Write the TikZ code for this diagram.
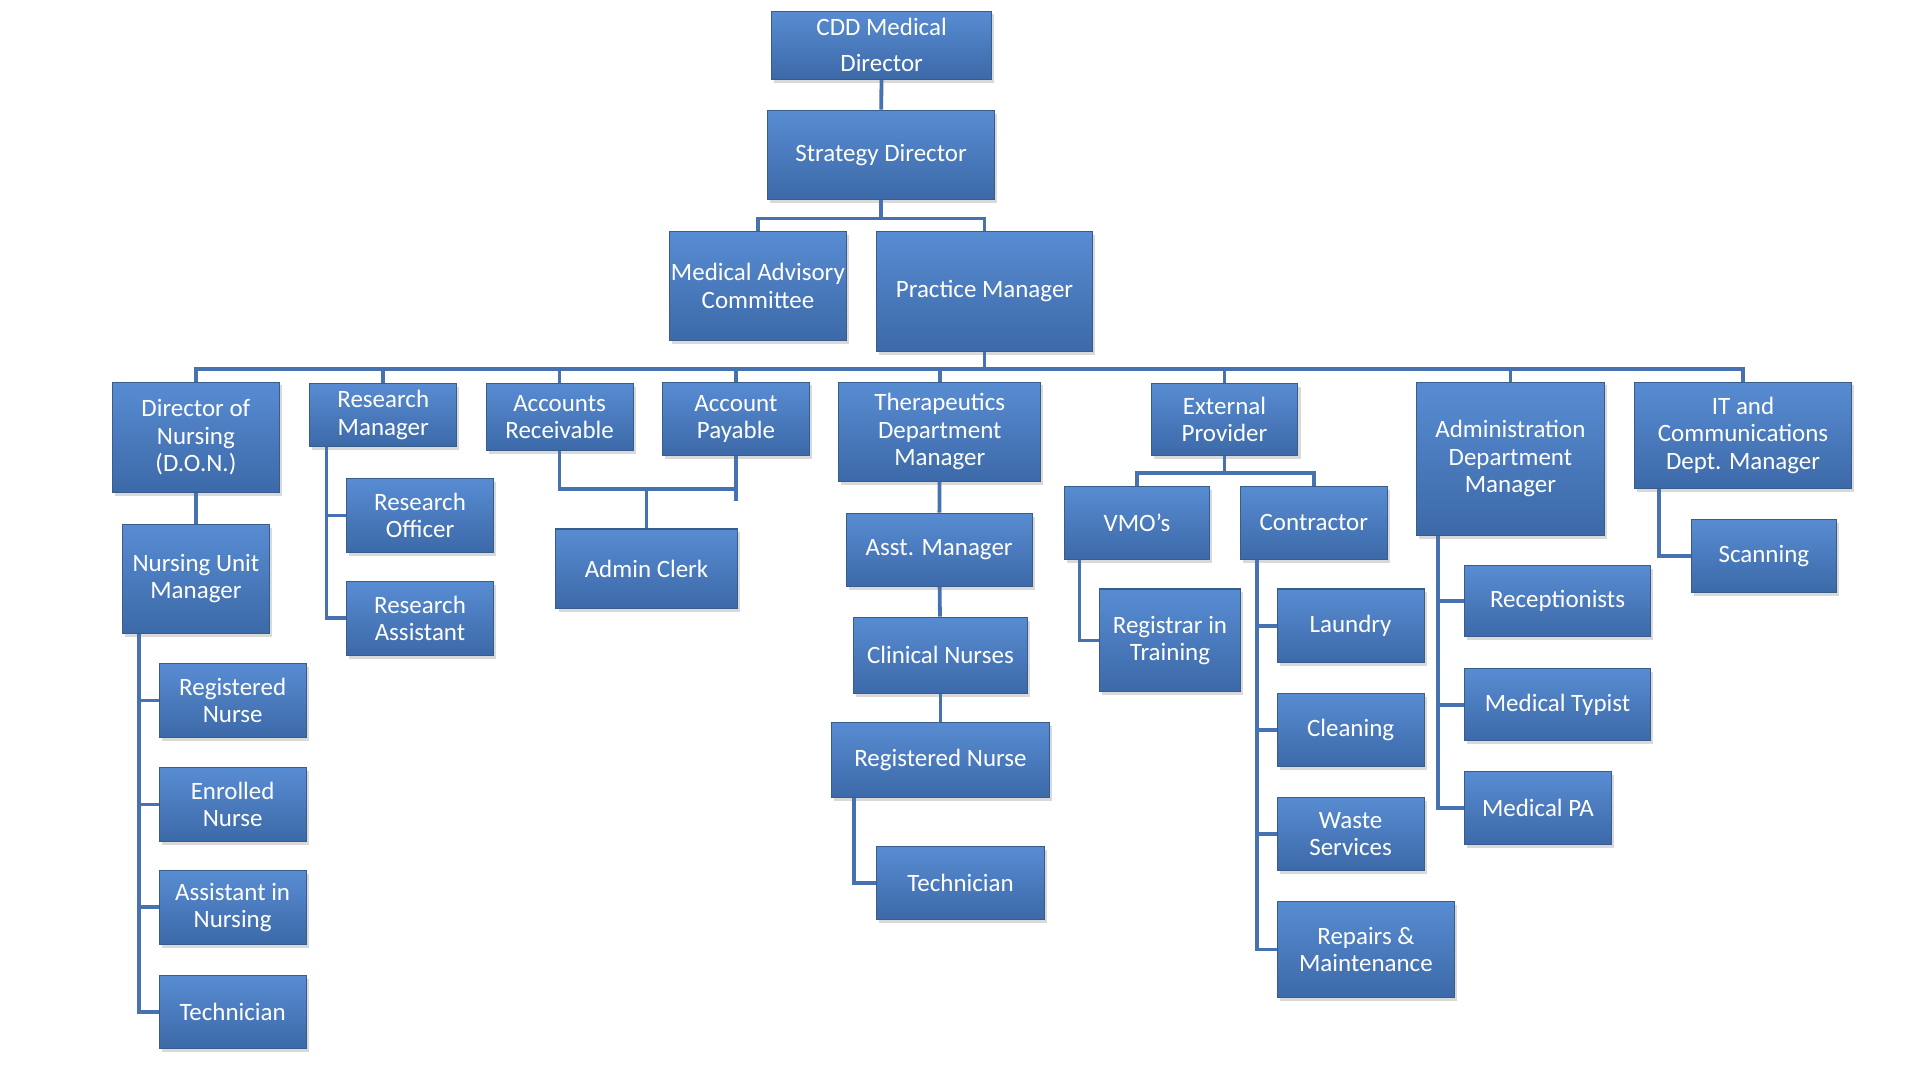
\documentclass[tikz,border=0pt]{standalone}
\usepackage{fontspec}
\setmainfont{Carlito}
\usetikzlibrary{calc,shadows}
\definecolor{boxtop}{RGB}{88,140,210}
\definecolor{boxbot}{RGB}{60,105,168}
\definecolor{boxedge}{RGB}{56,93,138}
\definecolor{linkblue}{RGB}{70,114,178}
\begin{document}
\begin{tikzpicture}[x=0.025cm,y=-0.025cm,
    unit/.style 2 args={rectangle,top color=boxtop,bottom color=boxbot,draw=boxedge,line width=0.6pt,
        minimum width=#1*0.025cm,minimum height=#2*0.025cm,inner sep=0pt,align=center,
        text=white,font=\fontsize{14.5}{16}\selectfont,
        drop shadow={shadow xshift=1.5pt,shadow yshift=-2pt,opacity=0.3}},
    link/.style={draw=linkblue,line width=2.2pt}]
    \useasboundingbox (0,0) rectangle (1568,876);
    % top of the chart
    \node[unit={180}{56}] (cdd) at (720,37) {CDD Medical\\[5pt]Director};
    \node[unit={185}{73}] (sd) at (719.5,126.5) {Strategy Director};
    \node[unit={144}{89}] (mac) at (619,233.5) {Medical Advisory\\Committee};
    \node[unit={176}{98}] (pm) at (804,238) {Practice Manager};
    % first row
    \node[unit={136}{90}] (don) at (160,357) {Director of\\Nursing\\(D.O.N.)};
    \node[unit={120}{52}] (rm) at (313,339) {Research\\Manager};
    \node[unit={120}{55}] (ar) at (457,340.5) {Accounts\\Receivable};
    \node[unit={120}{60}] (ap) at (601,342) {Account\\Payable};
    \node[unit={165}{81}] (tdm) at (767.5,352.5) {Therapeutics\\Department\\Manager};
    \node[unit={120}{59}] (ep) at (1000,342.5) {External\\Provider};
    \node[unit={153}{125}] (adm) at (1233.5,374.5) {Administration\\Department\\Manager};
    \node[unit={177}{87}] (it) at (1423.5,355.5) {IT and\\Communications\\Dept. Manager};
    % nursing
    \node[unit={120}{89}] (num) at (160,472.5) {Nursing Unit\\Manager};
    \node[unit={120}{60}] (rna) at (190,572) {Registered\\Nurse};
    \node[unit={120}{60}] (en) at (190,657) {Enrolled\\Nurse};
    \node[unit={120}{60}] (ain) at (190,741) {Assistant in\\Nursing};
    \node[unit={120}{59}] (techa) at (190,826.5) {Technician};
    % research and accounts
    \node[unit={120}{60}] (ro) at (343,421) {Research\\Officer};
    \node[unit={120}{60}] (ra) at (343,505) {Research\\Assistant};
    \node[unit={148}{65}] (ac) at (528,464.5) {Admin Clerk};
    % therapeutics
    \node[unit={152}{60}] (am) at (767,449) {Asst. Manager};
    \node[unit={142}{62}] (cn) at (768,535) {Clinical Nurses};
    \node[unit={178}{61}] (rnb) at (768,620.5) {Registered Nurse};
    \node[unit={137}{60}] (techb) at (784.5,721) {Technician};
    % external provider
    \node[unit={119}{60}] (vmo) at (928.5,427) {VMO’s};
    \node[unit={120}{60}] (con) at (1073,427) {Contractor};
    \node[unit={115}{84}] (rit) at (955.5,523) {Registrar in\\Training};
    \node[unit={120}{60}] (lau) at (1103,511) {Laundry};
    \node[unit={120}{60}] (cle) at (1103,596) {Cleaning};
    \node[unit={120}{60}] (ws) at (1103,681) {Waste\\Services};
    \node[unit={145}{79}] (rep) at (1115.5,775.5) {Repairs \&\\Maintenance};
    % administration and IT
    \node[unit={152}{58}] (rec) at (1272,491) {Receptionists};
    \node[unit={152}{59}] (mt) at (1272,575.5) {Medical Typist};
    \node[unit={120}{60}] (mpa) at (1256,660) {Medical PA};
    \node[unit={119}{60}] (scan) at (1440.5,454) {Scanning};
    % connectors
    \draw[link] (cdd) -- (sd);
    \draw[link] (sd.south) -- ++(0,15) coordinate (sdbus);
    \draw[link] (sdbus) -| (mac.north);
    \draw[link] (sdbus) -| (pm.north);
    \draw[link] (pm.south) -- ++(0,14) coordinate (pmbus);
    \foreach \n in {don,rm,ar,ap,tdm,ep,adm,it}
        \draw[link] (pmbus) -| (\n.north);
    \draw[link] (don) -- (num);
    \foreach \n in {rna,en,ain,techa}
        \draw[link] ($(num.south west)+(14,0)$) |- (\n.west);
    \foreach \n in {ro,ra}
        \draw[link] ($(rm.south west)+(14,0)$) |- (\n.west);
    \draw[link] (ar.south) -- ++(0,31) coordinate (acbus) -| (ap.south);
    \draw[link] (ap.south) -- ++(0,37);
    \draw[link] (acbus -| ac.north) -- (ac.north);
    \draw[link] (tdm) -- (am);
    \draw[link] (am) -- (cn);
    \draw[link] (cn) -- (rnb);
    \draw[link] ($(rnb.south west)+(19,0)$) |- (techb.west);
    \draw[link] (ep.south) -- ++(0,14) coordinate (epbus);
    \draw[link] (epbus) -| (vmo.north);
    \draw[link] (epbus) -| (con.north);
    \draw[link] ($(vmo.south west)+(13,0)$) |- (rit.west);
    \foreach \n in {lau,cle,ws,rep}
        \draw[link] ($(con.south west)+(14,0)$) |- (\n.west);
    \foreach \n in {rec,mt,mpa}
        \draw[link] ($(adm.south west)+(18,0)$) |- (\n.west);
    \draw[link] ($(it.south west)+(20,0)$) |- (scan.west);
\end{tikzpicture}
\end{document}
